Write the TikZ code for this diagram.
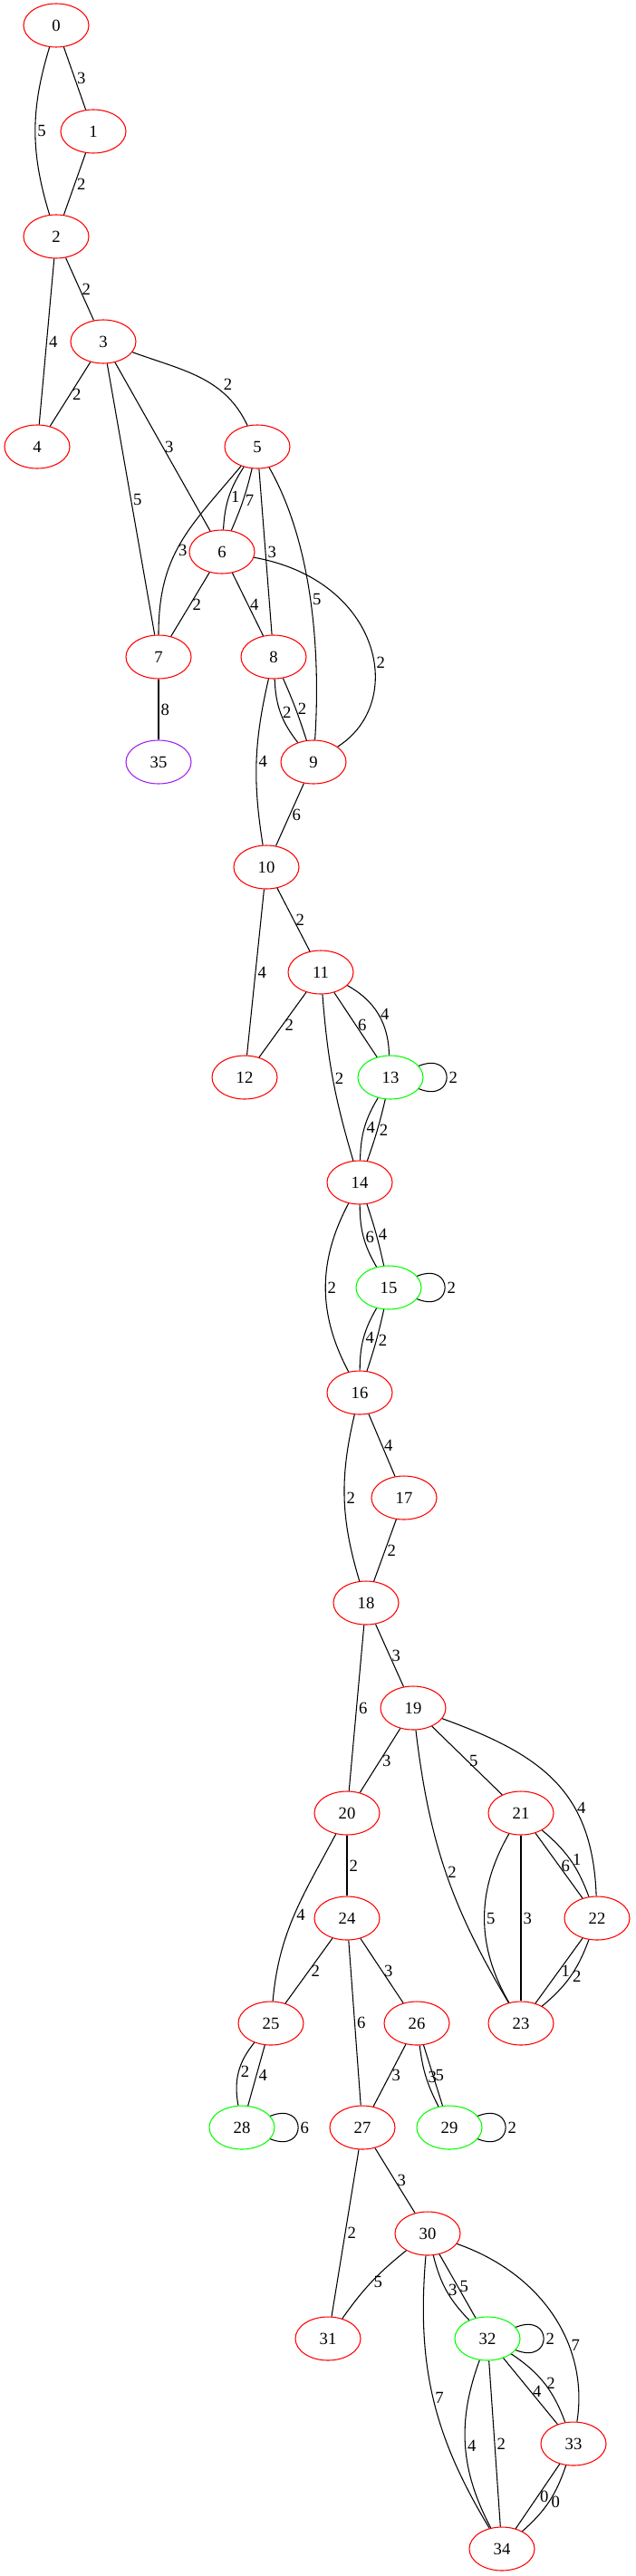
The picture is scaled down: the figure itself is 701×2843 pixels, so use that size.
\documentclass[tikz,border=0pt]{standalone}
\usepackage{fontspec}
\setmainfont{Liberation Serif}
\usetikzlibrary{positioning,shapes.geometric}
\definecolor{gvpurple}{HTML}{A020F0}

\begin{document}
\begin{tikzpicture}[x=0.75pt, y=-0.75pt, line width=0.8pt,
    vtx/.style={ellipse, draw=red, minimum width=54pt, minimum height=36pt,
        inner sep=0pt, font=\fontsize{14}{14}\selectfont},
    goal/.style={vtx, draw=green},
    sink/.style={vtx, draw=gvpurple},
    wt/.style={font=\fontsize{14}{14}\selectfont, inner sep=1.5pt},
    selfloop/.style={out=22, in=-22, looseness=4.5}]

        % Page frame (pixel units, origin top left)
        \useasboundingbox (0,0) rectangle (701,2843);

        % --- States ---
        \node[vtx] (n0) at (62,28) {0};
        \node[vtx] (n1) at (103,145) {1};
        \node[vtx] (n2) at (62,261) {2};
        \node[vtx] (n3) at (114,377) {3};
        \node[vtx] (n4) at (41,493) {4};
        \node[vtx] (n5) at (284,493) {5};
        \node[vtx] (n6) at (245,609) {6};
        \node[vtx] (n7) at (175,725) {7};
        \node[vtx] (n8) at (302,725) {8};
        \node[sink] (n35) at (175,841) {35};
        \node[vtx] (n9) at (346,841) {9};
        \node[vtx] (n10) at (294,957) {10};
        \node[vtx] (n11) at (354,1073) {11};
        \node[vtx] (n12) at (270,1189) {12};
        \node[goal] (n13) at (431,1189) {13};
        \node[vtx] (n14) at (397,1305) {14};
        \node[goal] (n15) at (429,1421) {15};
        \node[vtx] (n16) at (397,1537) {16};
        \node[vtx] (n17) at (446,1653) {17};
        \node[vtx] (n18) at (404,1769) {18};
        \node[vtx] (n19) at (456,1885) {19};
        \node[vtx] (n20) at (383,2001) {20};
        \node[vtx] (n21) at (575,2001) {21};
        \node[vtx] (n24) at (383,2117) {24};
        \node[vtx] (n22) at (659,2117) {22};
        \node[vtx] (n25) at (299,2233) {25};
        \node[vtx] (n26) at (460,2233) {26};
        \node[vtx] (n23) at (575,2233) {23};
        \node[goal] (n28) at (267,2348) {28};
        \node[vtx] (n27) at (400,2348) {27};
        \node[goal] (n29) at (496,2348) {29};
        \node[vtx] (n30) at (472,2465) {30};
        \node[vtx] (n31) at (362,2581) {31};
        \node[goal] (n32) at (538,2581) {32};
        \node[vtx] (n33) at (633,2697) {33};
        \node[vtx] (n34) at (554,2813) {34};

        % --- Upper part: 0 to 10 ---
        \draw (n0) -- node[wt,right] {3} (n1);
        \draw (n0) to[bend right=17] node[wt,right] {5} (n2);
        \draw (n1) -- node[wt,right] {2} (n2);
        \draw (n2) -- node[wt,right] {4} (n4);
        \draw (n2) -- node[wt,right] {2} (n3);
        \draw (n3) -- node[wt,right] {2} (n4);
        \draw (n3) -- node[wt,right] {5} (n7);
        \draw (n3) -- node[wt,right] {3} (n6);
        \draw (n3) to[out=-20,in=115] node[wt,pos=0.6,right,xshift=8] {2} (n5);
        \draw (n5) to[out=230,in=90,looseness=1.1] node[wt,pos=0.55,right] {3} (n7);
        \draw (n5) to[bend right=15] node[wt,right] {1} (n6);
        \draw (n5) to[bend left=5] node[wt,right] {7} (n6);
        \draw (n5) -- node[wt,right] {3} (n8);
        \draw (n5) .. controls (345,600) and (354,720) .. node[wt,right] {5} (n9);
        \draw (n6) -- node[wt,right] {2} (n7);
        \draw (n6) -- node[wt,right] {4} (n8);
        \draw (n6) .. controls (420,640) and (450,775) .. node[wt,pos=0.58,right] {2} (n9);
        \draw (n7) -- node[wt,right] {8} (n35);
        \draw (n8) to[bend right=18] node[wt,right] {2} (n9);
        \draw (n8) to[bend left=3] node[wt,right] {2} (n9);
        \draw (n8) to[bend right=11] node[wt,right] {4} (n10);
        \draw (n9) -- node[wt,right] {6} (n10);

        % --- Middle part: 10 to 19 ---
        \draw (n10) -- node[wt,right] {4} (n12);
        \draw (n10) -- node[wt,right] {2} (n11);
        \draw (n11) -- node[wt,right] {2} (n12);
        \draw (n11) to[bend right=6] node[wt,right] {2} (n14);
        \draw (n11) -- node[wt,right] {6} (n13);
        \draw (n11) to[bend left=30] node[wt,right] {4} (n13);
        \draw (n13) to[selfloop] node[wt,right] {2} (n13);
        \draw (n13) to[bend right=15] node[wt,right] {4} (n14);
        \draw (n13) to[bend left=3] node[wt,right] {2} (n14);
        \draw (n14) to[bend right=15] node[wt,right] {6} (n15);
        \draw (n14) to[bend left=3] node[wt,right] {4} (n15);
        \draw (n14) to[bend right=28] node[wt,right] {2} (n16);
        \draw (n15) to[selfloop] node[wt,right] {2} (n15);
        \draw (n15) to[bend right=15] node[wt,right] {4} (n16);
        \draw (n15) to[bend left=3] node[wt,right] {2} (n16);
        \draw (n16) -- node[wt,right] {4} (n17);
        \draw (n16) to[bend right=15] node[wt,right] {2} (n18);
        \draw (n17) -- node[wt,right] {2} (n18);
        \draw (n18) -- node[wt,right] {3} (n19);
        \draw (n18) -- node[wt,right] {6} (n20);

        % --- Lower part: 19 to 34 ---
        \draw (n19) -- node[wt,right] {3} (n20);
        \draw (n19) -- node[wt,right] {5} (n21);
        \draw (n19) to[out=-20,in=92,looseness=1.15] node[wt,pos=0.65,right] {4} (n22);
        \draw (n19) to[bend right=12] node[wt,right] {2} (n23);
        \draw (n20) -- node[wt,right] {2} (n24);
        \draw (n20) to[out=-118,in=85] node[wt,right] {4} (n25);
        \draw (n21) to[bend right=30] node[wt,right] {5} (n23);
        \draw (n21) -- node[wt,right] {3} (n23);
        \draw (n21) -- node[wt,right] {6} (n22);
        \draw (n21) to[bend left=15] node[wt,right] {1} (n22);
        \draw (n22) -- node[wt,right] {1} (n23);
        \draw (n22) to[bend left=15] node[wt,right] {2} (n23);
        \draw (n24) -- node[wt,right] {2} (n25);
        \draw (n24) -- node[wt,right] {6} (n27);
        \draw (n24) -- node[wt,right] {3} (n26);
        \draw (n25) to[bend right=25] node[wt,right] {2} (n28);
        \draw (n25) -- node[wt,right] {4} (n28);
        \draw (n26) -- node[wt,right] {3} (n27);
        \draw (n26) to[bend right=10] node[wt,right] {3} (n29);
        \draw (n26) -- node[wt,right] {5} (n29);
        \draw (n28) to[selfloop] node[wt,right] {6} (n28);
        \draw (n29) to[selfloop] node[wt,right] {2} (n29);
        \draw (n27) -- node[wt,right] {2} (n31);
        \draw (n27) -- node[wt,right] {3} (n30);
        \draw (n30) to[bend right=8] node[wt,right] {5} (n31);
        \draw (n30) to[bend right=15] node[wt,right] {3} (n32);
        \draw (n30) -- node[wt,right] {5} (n32);
        \draw (n30) to[bend right=18] node[wt,right] {7} (n34);
        \draw (n30) .. controls (600,2510) and (650,2590) .. node[wt,pos=0.65,right] {7} (n33);
        \draw (n32) to[selfloop] node[wt,right] {2} (n32);
        \draw (n32) -- node[wt,right] {4} (n33);
        \draw (n32) to[bend left=18] node[wt,right] {2} (n33);
        \draw (n32) to[bend right=24] node[wt,right] {4} (n34);
        \draw (n32) -- node[wt,right] {2} (n34);
        \draw (n33) -- node[wt,right] {0} (n34);
        \draw (n33) to[bend left=15] node[wt,right] {0} (n34);

\end{tikzpicture}
\end{document}
